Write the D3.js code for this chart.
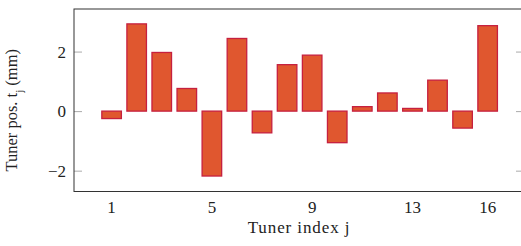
<!DOCTYPE html>
<html>
<head>
<meta charset="utf-8">
<script src="https://cdn.jsdelivr.net/npm/d3@7"></script>
<style>
  body { margin: 0; background: #fff; }
  text { font-family: "Liberation Serif", "DejaVu Serif", serif; fill: #222; }
</style>
</head>
<body>
<div id="wrapper"></div>
<script>
// values
const tunerIndex = [1, 2, 3, 4, 5, 6, 7, 8, 9, 10, 11, 12, 13, 14, 15, 16]
const tunerPos = [-0.25, 2.93, 1.97, 0.76, -2.18, 2.44, -0.73, 1.56, 1.88, -1.06, 0.15, 0.61, 0.09, 1.04, -0.57, 2.87]
const xTicks = [1, 5, 9, 13, 16]
const yTicks = [-2, 0, 2]

function drawChart() {
  const dimensions = {
    width: 521,
    height: 246,
    margin: { top: 9, right: -3, bottom: 54.5, left: 74 },
  }
  dimensions.boundedWidth = dimensions.width - dimensions.margin.left - dimensions.margin.right
  dimensions.boundedHeight = dimensions.height - dimensions.margin.top - dimensions.margin.bottom

  const wrapper = d3.select("#wrapper")
    .append("svg")
    .attr("width", dimensions.width)
    .attr("height", dimensions.height)

  const bounds = wrapper.append("g")
    .attr("transform", `translate(${dimensions.margin.left}, ${dimensions.margin.top})`)

  // scales
  const xScale = d3.scaleLinear()
    .domain([-0.5, 17.45])
    .range([0, dimensions.boundedWidth])

  const yScale = d3.scaleLinear()
    .domain([-2.7, 3.43])
    .range([dimensions.boundedHeight, 0])

  const barW = xScale(0.78) - xScale(0)

  // bars
  bounds.selectAll("rect.bar")
    .data(tunerIndex)
    .join("rect")
    .attr("class", "bar")
    .attr("x", (d, i) => xScale(d) - barW / 2)
    .attr("y", (d, i) => yScale(Math.max(0, tunerPos[i])))
    .attr("width", barW)
    .attr("height", (d, i) => Math.abs(yScale(tunerPos[i]) - yScale(0)))
    .attr("fill", "#e0572f")
    .attr("stroke", "#c6203f")
    .attr("stroke-width", 1.3)

  // y ticks (left and right, pointing inward)
  const yAxisL = d3.axisRight(yScale).tickValues(yTicks).tickSize(8).tickFormat("")
  bounds.append("g").call(yAxisL)
    .call(g => g.select(".domain").remove())
    .call(g => g.selectAll("line").attr("stroke", "#aaa").attr("stroke-width", 1))

  const yAxisR = d3.axisLeft(yScale).tickValues(yTicks).tickSize(8).tickFormat("")
  bounds.append("g").attr("transform", `translate(${dimensions.boundedWidth}, 0)`).call(yAxisR)
    .call(g => g.select(".domain").remove())
    .call(g => g.selectAll("line").attr("stroke", "#aaa").attr("stroke-width", 1))

  // y tick labels
  bounds.selectAll("text.ylab")
    .data(yTicks)
    .join("text")
    .attr("class", "ylab")
    .attr("x", -8)
    .attr("y", d => yScale(d))
    .attr("dy", "0.35em")
    .attr("text-anchor", "end")
    .style("font-size", "17px")
    .text(d => d < 0 ? "\u2212" + Math.abs(d) : d)

  // x tick labels (no tick marks)
  bounds.selectAll("text.xlab")
    .data(xTicks)
    .join("text")
    .attr("class", "xlab")
    .attr("x", d => xScale(d))
    .attr("y", dimensions.boundedHeight + 21.5)
    .attr("text-anchor", "middle")
    .style("font-size", "17px")
    .text(d => d)

  // frame
  bounds.append("rect")
    .attr("width", dimensions.boundedWidth)
    .attr("height", dimensions.boundedHeight)
    .attr("fill", "none")
    .attr("stroke", "#333")
    .attr("stroke-width", 1)

  // axis labels
  bounds.append("text")
    .attr("x", dimensions.boundedWidth / 2)
    .attr("y", dimensions.boundedHeight + 41.5)
    .attr("text-anchor", "middle")
    .style("font-size", "17px")
    .style("letter-spacing", "0.9px")
    .text("Tuner index j")

  const yLabel = bounds.append("text")
    .attr("transform", `translate(${-57}, ${dimensions.boundedHeight / 2 + 10}) rotate(-90)`)
    .attr("text-anchor", "middle")
    .style("font-size", "16.5px")
  yLabel.append("tspan").text("Tuner pos. t")
  yLabel.append("tspan").attr("baseline-shift", "sub").style("font-size", "11px").text("j")
  yLabel.append("tspan").text(" (mm)")
}

drawChart()
</script>
</body>
</html>
